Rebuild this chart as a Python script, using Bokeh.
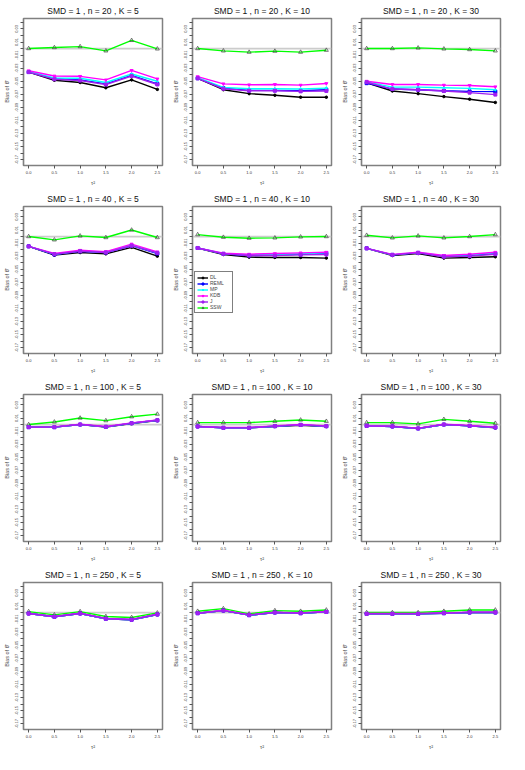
from bokeh.plotting import figure
from bokeh.layouts import gridplot
from bokeh.models import FixedTicker, PrintfTickFormatter, Span, Legend, LegendItem, Range1d
from bokeh.embed import file_html
from bokeh.resources import INLINE

# ---------------- data ----------------
TAU2 = [0.0, 0.5, 1.0, 1.5, 2.0, 2.5]
X_TICKS = [0.0, 0.5, 1.0, 1.5, 2.0, 2.5]
Y_TICKS_LABELED = [0.03, 0.01, -0.01, -0.03, -0.05, -0.07, -0.09, -0.11, -0.13, -0.15, -0.17]
Y_TICKS_MINOR = [0.04, 0.02, 0.0, -0.02, -0.04, -0.06, -0.08, -0.10, -0.12, -0.14, -0.16]
METHODS = ["DL", "REML", "MP", "KDB", "J", "SSW"]
N_VALUES = [20, 40, 100, 250]
K_VALUES = [5, 10, 30]

BIAS_N20_K5 = {
    "DL":   [-0.036, -0.0485, -0.052, -0.060, -0.048, -0.0625],
    "REML": [-0.036, -0.046, -0.048, -0.054, -0.041, -0.054],
    "MP":   [-0.0355, -0.045, -0.0455, -0.052, -0.039, -0.050],
    "KDB":  [-0.034, -0.042, -0.0425, -0.048, -0.0335, -0.0465],
    "J":    [-0.036, -0.047, -0.049, -0.055, -0.042, -0.055],
    "SSW":  [0.000, 0.0015, 0.003, -0.0035, 0.0125, -0.0005],
}
BIAS_N20_K10 = {
    "DL":   [-0.0455, -0.063, -0.069, -0.0715, -0.0745, -0.0745],
    "REML": [-0.0455, -0.0605, -0.064, -0.064, -0.0645, -0.063],
    "MP":   [-0.0445, -0.0595, -0.0615, -0.0615, -0.062, -0.0605],
    "KDB":  [-0.043, -0.054, -0.0555, -0.055, -0.056, -0.0535],
    "J":    [-0.0455, -0.0615, -0.0645, -0.0645, -0.0655, -0.065],
    "SSW":  [0.000, -0.0035, -0.0055, -0.004, -0.0055, -0.0025],
}
BIAS_N20_K30 = {
    "DL":   [-0.0525, -0.065, -0.069, -0.0735, -0.0775, -0.0825],
    "REML": [-0.053, -0.062, -0.063, -0.0645, -0.0655, -0.066],
    "MP":   [-0.051, -0.059, -0.059, -0.060, -0.061, -0.063],
    "KDB":  [-0.050, -0.055, -0.055, -0.056, -0.0565, -0.0585],
    "J":    [-0.0515, -0.062, -0.063, -0.065, -0.0675, -0.0705],
    "SSW":  [0.000, 0.000, 0.001, -0.0005, -0.0015, -0.0035],
}
BIAS_N40_K5 = {
    "DL":   [-0.015, -0.0285, -0.0245, -0.0265, -0.0165, -0.030],
    "REML": [-0.015, -0.0275, -0.0225, -0.0245, -0.014, -0.026],
    "MP":   [-0.015, -0.027, -0.022, -0.024, -0.013, -0.025],
    "KDB":  [-0.015, -0.026, -0.021, -0.023, -0.0115, -0.0235],
    "J":    [-0.015, -0.027, -0.0225, -0.0245, -0.014, -0.025],
    "SSW":  [0.000, -0.005, 0.001, -0.0015, 0.010, -0.0015],
}
BIAS_N40_K10 = {
    "DL":   [-0.0175, -0.0275, -0.0315, -0.032, -0.032, -0.033],
    "REML": [-0.0175, -0.0265, -0.029, -0.0285, -0.027, -0.0255],
    "MP":   [-0.0175, -0.026, -0.028, -0.0275, -0.0265, -0.025],
    "KDB":  [-0.0175, -0.0255, -0.027, -0.026, -0.025, -0.024],
    "J":    [-0.0175, -0.0265, -0.029, -0.029, -0.028, -0.0275],
    "SSW":  [0.003, -0.001, -0.0025, -0.002, -0.0005, 0.000],
}
BIAS_N40_K30 = {
    "DL":   [-0.018, -0.029, -0.026, -0.033, -0.032, -0.031],
    "REML": [-0.018, -0.028, -0.025, -0.030, -0.029, -0.026],
    "MP":   [-0.018, -0.028, -0.0245, -0.0295, -0.028, -0.025],
    "KDB":  [-0.018, -0.0275, -0.024, -0.029, -0.027, -0.024],
    "J":    [-0.018, -0.028, -0.025, -0.031, -0.030, -0.027],
    "SSW":  [0.002, -0.002, 0.001, -0.002, 0.000, 0.003],
}
BIAS_N100_K5 = {
    "DL":   [-0.004, -0.004, 0.000, -0.004, 0.0015, 0.006],
    "REML": [-0.004, -0.004, 0.000, -0.0035, 0.002, 0.0065],
    "MP":   [-0.004, -0.004, 0.000, -0.0035, 0.002, 0.0065],
    "KDB":  [-0.004, -0.0035, 0.0005, -0.003, 0.0025, 0.007],
    "J":    [-0.004, -0.004, 0.000, -0.0035, 0.002, 0.0065],
    "SSW":  [0.000, 0.004, 0.010, 0.006, 0.012, 0.016],
}
BIAS_N100_K10 = {
    "DL":   [-0.003, -0.005, -0.005, -0.003, -0.001, -0.003],
    "REML": [-0.003, -0.005, -0.005, -0.0025, -0.0005, -0.0025],
    "MP":   [-0.003, -0.005, -0.005, -0.0025, -0.0005, -0.0025],
    "KDB":  [-0.003, -0.0045, -0.0045, -0.002, 0.000, -0.002],
    "J":    [-0.003, -0.005, -0.005, -0.0025, -0.0005, -0.0025],
    "SSW":  [0.003, 0.003, 0.003, 0.005, 0.007, 0.005],
}
BIAS_N100_K30 = {
    "DL":   [-0.002, -0.003, -0.006, 0.000, -0.002, -0.005],
    "REML": [-0.002, -0.003, -0.006, 0.000, -0.002, -0.0045],
    "MP":   [-0.002, -0.003, -0.006, 0.000, -0.002, -0.0045],
    "KDB":  [-0.002, -0.0025, -0.0055, 0.0005, -0.0015, -0.004],
    "J":    [-0.002, -0.003, -0.006, 0.000, -0.002, -0.0045],
    "SSW":  [0.003, 0.003, 0.001, 0.008, 0.005, 0.002],
}
BIAS_N250_K5 = {
    "DL":   [-0.0015, -0.0065, -0.0015, -0.0095, -0.011, -0.003],
    "REML": [-0.0015, -0.0065, -0.0015, -0.0095, -0.011, -0.003],
    "MP":   [-0.0015, -0.0065, -0.0015, -0.0095, -0.011, -0.003],
    "KDB":  [-0.0015, -0.006, -0.001, -0.009, -0.0105, -0.0025],
    "J":    [-0.0015, -0.0065, -0.0015, -0.0095, -0.011, -0.003],
    "SSW":  [0.0015, -0.0035, 0.0015, -0.006, -0.0075, -0.0005],
}
BIAS_N250_K10 = {
    "DL":   [-0.001, 0.003, -0.004, 0.000, -0.001, 0.001],
    "REML": [-0.001, 0.003, -0.004, 0.000, -0.001, 0.001],
    "MP":   [-0.001, 0.003, -0.004, 0.000, -0.001, 0.001],
    "KDB":  [-0.001, 0.0035, -0.0035, 0.0005, -0.0005, 0.0015],
    "J":    [-0.001, 0.003, -0.004, 0.000, -0.001, 0.001],
    "SSW":  [0.002, 0.006, -0.002, 0.003, 0.002, 0.004],
}
BIAS_N250_K30 = {
    "DL":   [-0.002, -0.002, -0.002, -0.001, 0.000, 0.000],
    "REML": [-0.002, -0.002, -0.002, -0.001, 0.000, 0.000],
    "MP":   [-0.002, -0.002, -0.002, -0.001, 0.000, 0.000],
    "KDB":  [-0.0015, -0.0015, -0.0015, -0.0005, 0.0005, 0.0005],
    "J":    [-0.002, -0.002, -0.002, -0.001, 0.000, 0.000],
    "SSW":  [0.000, 0.000, 0.000, 0.002, 0.004, 0.004],
}

PANELS = [
    (20, 5, BIAS_N20_K5), (20, 10, BIAS_N20_K10), (20, 30, BIAS_N20_K30),
    (40, 5, BIAS_N40_K5), (40, 10, BIAS_N40_K10), (40, 30, BIAS_N40_K30),
    (100, 5, BIAS_N100_K5), (100, 10, BIAS_N100_K10), (100, 30, BIAS_N100_K30),
    (250, 5, BIAS_N250_K5), (250, 10, BIAS_N250_K10), (250, 30, BIAS_N250_K30),
]

# ---------------- style ----------------
FONT = "Liberation Sans"
COLORS = {"DL": "black", "REML": "blue", "MP": "cyan", "KDB": "magenta",
          "J": "#a020f0", "SSW": "#00ff00"}
MARKERS = {"DL": "circle", "REML": "square", "MP": "diamond",
           "KDB": "inverted_triangle", "J": "square", "SSW": "triangle"}
MSIZE = {"DL": 2.5, "REML": 3, "MP": 3, "KDB": 3, "J": 3, "SSW": 4}
DRAW_ORDER = ["SSW", "DL", "REML", "MP", "KDB", "J"]

W, H = 169, 188


def make_panel(n, k, data, with_legend=False):
    p = figure(width=W, height=H, output_backend="svg", toolbar_location=None,
               x_range=Range1d(-0.1, 2.6), y_range=Range1d(-0.179, 0.046),
               min_border_left=19, min_border_right=7, min_border_top=18,
               min_border_bottom=22)
    p.title.text = f"SMD = 1 , n = {n} , K = {k}"
    p.title.align = "center"
    p.title.text_font = FONT
    p.title.text_font_size = "8.5px"
    p.title.text_font_style = "normal"
    p.title.text_color = "#111111"
    p.title.standoff = 6
    p.grid.visible = False
    p.outline_line_color = "#808080"
    p.outline_line_width = 1.5
    p.background_fill_color = "white"
    p.border_fill_color = "white"

    # axes
    p.xaxis.ticker = FixedTicker(ticks=X_TICKS)
    p.xaxis.formatter = PrintfTickFormatter(format="%.1f")
    p.xaxis.axis_label = "τ²"
    p.yaxis.ticker = FixedTicker(ticks=Y_TICKS_LABELED, minor_ticks=Y_TICKS_MINOR)
    p.yaxis.formatter = PrintfTickFormatter(format="%.2f")
    p.yaxis.axis_label = "Bias of θ̂"
    p.yaxis.major_label_orientation = "vertical"
    for ax in (p.xaxis, p.yaxis):
        ax.axis_line_color = "#808080"
        ax.axis_line_width = 1.2
        ax.major_tick_line_color = "#555555"
        ax.minor_tick_line_color = "#555555"
        ax.major_tick_in = 0
        ax.major_tick_out = 3
        ax.minor_tick_in = 0
        ax.minor_tick_out = 3
        ax.major_label_text_font = FONT
        ax.major_label_text_font_size = "4px"
        ax.major_label_text_color = "#333333"
        ax.major_label_standoff = 2
        ax.axis_label_text_font = FONT
        ax.axis_label_text_font_size = "5.5px"
        ax.axis_label_text_font_style = "normal"
        ax.axis_label_standoff = 3
    p.xaxis.minor_tick_line_color = None

    p.add_layout(Span(location=0, dimension="width", line_color="#cccccc",
                      line_width=1.8, level="underlay"))

    items = {}
    for m in DRAW_ORDER:
        ys = data[m]
        lr = p.line(TAU2, ys, line_color=COLORS[m], line_width=1.4)
        if m == "SSW":
            sr = p.scatter(TAU2, ys, marker="triangle", size=MSIZE[m],
                           line_color="#444444", fill_color=None, line_width=0.7)
        else:
            sr = p.scatter(TAU2, ys, marker=MARKERS[m], size=MSIZE[m],
                           line_color=COLORS[m], fill_color=COLORS[m])
        items[m] = LegendItem(label=m, renderers=[lr, sr])

    if with_legend:
        leg = Legend(items=[items[m] for m in METHODS], location=(2, 40))
        leg.label_text_font = FONT
        leg.label_text_font_size = "5px"
        leg.label_height = 4
        leg.glyph_height = 5
        leg.glyph_width = 11
        leg.label_standoff = 2
        leg.spacing = 0
        leg.padding = 2
        leg.margin = 0
        leg.border_line_color = "black"
        leg.border_line_width = 0.7
        leg.background_fill_alpha = 1
        p.add_layout(leg)
    return p


figs = []
for n, k, d in PANELS:
    figs.append(make_panel(n, k, d, with_legend=(n == 40 and k == 10)))

grid = gridplot(figs, ncols=3, toolbar_location=None)

open("out.html", "w").write(file_html(grid, INLINE))
